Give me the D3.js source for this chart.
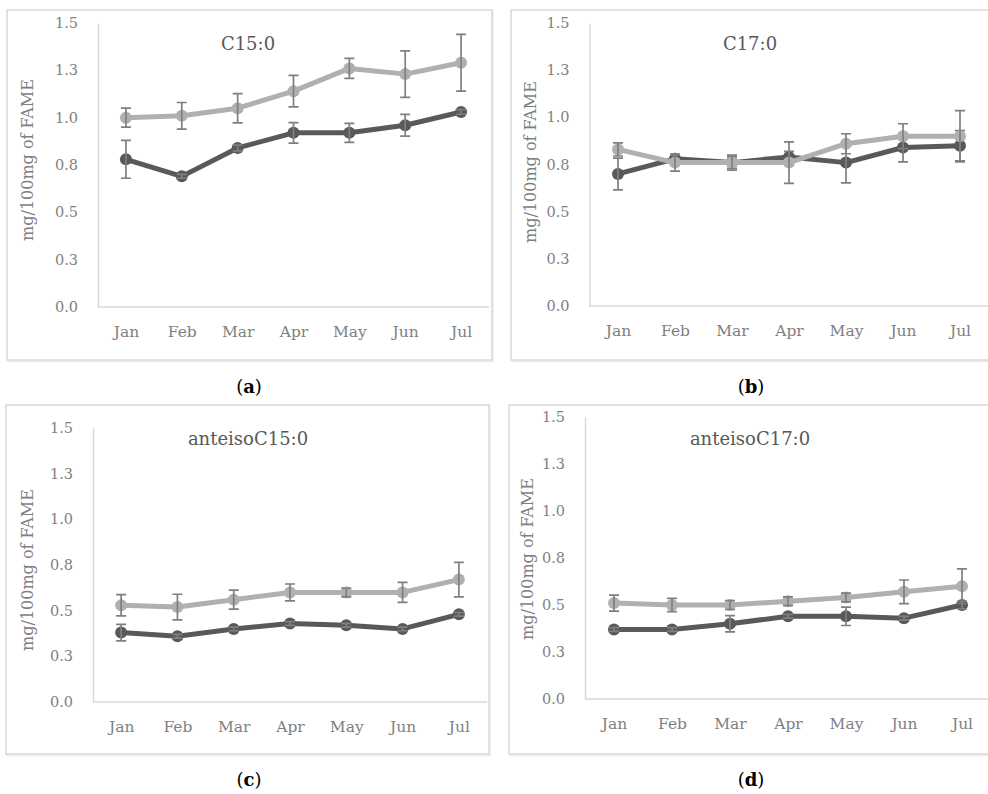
<!DOCTYPE html>
<html>
<head>
<meta charset="utf-8">
<script src="https://cdn.jsdelivr.net/npm/d3@7"></script>
<style>
	body { margin: 0; background: #fff; }
	svg { display: block; }
	.axis path { stroke: #d9d9d9; stroke-width: 1.5; }
	.axis text { fill: #7f7f7f; font-family: 'DejaVu Serif', serif; font-size: 14px; }
	.title { fill: #595959; font-family: 'DejaVu Serif', serif; font-size: 18px; }
	.y-label { fill: #7f7f7f; font-family: 'DejaVu Serif', serif; font-size: 16px; }
	.caption { fill: #000; font-family: 'DejaVu Serif', serif; font-size: 18px; }
</style>
</head>
<body>
<div id="chart"></div>
<script>
var months = ['Jan', 'Feb', 'Mar', 'Apr', 'May', 'Jun', 'Jul'];
var yTicks = [0, 0.25, 0.5, 0.75, 1.0, 1.25, 1.5];
var yTickLabels = ['0.0', '0.3', '0.5', '0.8', '1.0', '1.3', '1.5'];
var yAxisLabel = 'mg/100mg of FAME';
var titles = ['C15:0', 'C17:0', 'anteisoC15:0', 'anteisoC17:0'];
var captions = ['a', 'b', 'c', 'd'];

// C15:0
var c15Dark = [0.78, 0.69, 0.84, 0.92, 0.92, 0.96, 1.03];
var c15DarkErr = [0.10, 0.01, 0.015, 0.054, 0.05, 0.057, 0.012];
var c15Light = [1.00, 1.01, 1.05, 1.14, 1.26, 1.23, 1.29];
var c15LightErr = [0.05, 0.07, 0.077, 0.083, 0.053, 0.123, 0.15];

// C17:0
var c17Dark = [0.70, 0.78, 0.76, 0.79, 0.76, 0.84, 0.85];
var c17DarkErr = [0.084, 0.02, 0.03, 0.03, 0.107, 0.076, 0.08];
var c17Light = [0.83, 0.76, 0.76, 0.76, 0.86, 0.90, 0.90];
var c17LightErr = [0.035, 0.045, 0.04, 0.11, 0.053, 0.066, 0.136];

// anteisoC15:0
var aC15Dark = [0.38, 0.36, 0.40, 0.43, 0.42, 0.40, 0.48];
var aC15DarkErr = [0.045, 0.01, 0.01, 0.01, 0.01, 0.01, 0.01];
var aC15Light = [0.53, 0.52, 0.56, 0.60, 0.60, 0.60, 0.67];
var aC15LightErr = [0.058, 0.07, 0.052, 0.046, 0.024, 0.055, 0.094];

// anteisoC17:0
var aC17Dark = [0.37, 0.37, 0.40, 0.44, 0.44, 0.43, 0.50];
var aC17DarkErr = [0.01, 0.01, 0.043, 0.01, 0.049, 0.01, 0.02];
var aC17Light = [0.51, 0.50, 0.50, 0.52, 0.54, 0.57, 0.60];
var aC17LightErr = [0.043, 0.035, 0.024, 0.023, 0.023, 0.063, 0.092];

var colors = {
	dark: '#595959',
	light: '#b0b0b0',
	err: '#7f7f7f'
};

// panel layout (frame box, plot area, text anchors)
var layout = [
	{ frame: [7, 10, 485, 350], plot: { l: 98, r: 489, t: 23, b: 307 }, title: [248, 50], ylab: [27, 160], cap: [249, 393] },
	{ frame: [511, 10, 480, 350], plot: { l: 589.5, r: 988.5, t: 23, b: 306 }, title: [750, 50], ylab: [530, 162], cap: [751, 393] },
	{ frame: [6, 405, 483, 349], plot: { l: 93, r: 487, t: 428, b: 702 }, title: [248, 445], ylab: [27, 570], cap: [249, 786] },
	{ frame: [509, 405, 482, 349], plot: { l: 585, r: 991, t: 417, b: 699 }, title: [750, 445], ylab: [527, 559], cap: [751, 786] }
];

var seriesSets = [
	[[c15Dark, c15DarkErr], [c15Light, c15LightErr]],
	[[c17Dark, c17DarkErr], [c17Light, c17LightErr]],
	[[aC15Dark, aC15DarkErr], [aC15Light, aC15LightErr]],
	[[aC17Dark, aC17DarkErr], [aC17Light, aC17LightErr]]
];

var app = {
	init: function(el) {
		this.svg = d3.select(el).append('svg')
			.attr('width', 988)
			.attr('height', 794);

		for (var i = 0; i < layout.length; i++) {
			this.drawPanel(i);
		}
	},
	drawPanel: function(i) {
		var svg = this.svg;
		var L = layout[i];
		var p = L.plot;
		var g = svg.append('g');

		// frame (with a faint shadow)
		g.append('rect')
			.attr('x', L.frame[0] + 1)
			.attr('y', L.frame[1] + 1.5)
			.attr('width', L.frame[2])
			.attr('height', L.frame[3])
			.attr('fill', 'none')
			.attr('stroke', '#ececec')
			.attr('stroke-width', 1.5);
		g.append('rect')
			.attr('x', L.frame[0])
			.attr('y', L.frame[1])
			.attr('width', L.frame[2])
			.attr('height', L.frame[3])
			.attr('fill', '#fff')
			.attr('stroke', '#d9d9d9')
			.attr('stroke-width', 1.5);

		var x = d3.scalePoint()
			.domain(months)
			.range([p.l, p.r])
			.padding(0.5);

		var y = d3.scaleLinear()
			.domain([0, 1.5])
			.range([p.b, p.t]);

		var yAxis = d3.axisLeft(y)
			.tickValues(yTicks)
			.tickFormat(function(d, k) { return yTickLabels[k]; })
			.tickSize(0)
			.tickPadding(20);

		var xAxis = d3.axisBottom(x)
			.tickSize(0)
			.tickPadding(19);

		var yg = g.append('g')
			.attr('class', 'axis')
			.attr('transform', 'translate(' + p.l + ',0)')
			.call(yAxis);
		yg.selectAll('text').style('font-size', '14.5px');

		var xg = g.append('g')
			.attr('class', 'axis')
			.attr('transform', 'translate(0,' + p.b + ')')
			.call(xAxis);
		xg.select('.domain').attr('d', 'M' + p.l + ',0H' + p.r);
		xg.selectAll('text').style('font-size', '15.5px');

		// title
		g.append('text')
			.attr('class', 'title')
			.attr('x', L.title[0])
			.attr('y', L.title[1])
			.attr('text-anchor', 'middle')
			.text(titles[i]);

		// y axis label
		g.append('text')
			.attr('class', 'y-label')
			.attr('transform', 'translate(' + L.ylab[0] + ',' + L.ylab[1] + ') rotate(-90)')
			.attr('text-anchor', 'middle')
			.attr('dy', '0.35em')
			.text(yAxisLabel);

		// caption
		var cap = g.append('text')
			.attr('class', 'caption')
			.attr('x', L.cap[0])
			.attr('y', L.cap[1])
			.attr('text-anchor', 'middle');
		cap.append('tspan').text('(');
		cap.append('tspan').attr('font-weight', 'bold').text(captions[i]);
		cap.append('tspan').text(')');

		var sets = seriesSets[i];
		var keys = ['dark', 'light'];
		var line = d3.line()
			.x(function(d, k) { return x(months[k]); })
			.y(function(d) { return y(d); });

		for (var s = 0; s < sets.length; s++) {
			var vals = sets[s][0];
			var errs = sets[s][1];
			var color = colors[keys[s]];

			g.append('path')
				.datum(vals)
				.attr('fill', 'none')
				.attr('stroke', color)
				.attr('stroke-width', 5)
				.attr('stroke-linejoin', 'round')
				.attr('d', line);

			g.selectAll(null)
				.data(vals)
				.enter().append('circle')
				.attr('cx', function(d, k) { return x(months[k]); })
				.attr('cy', function(d) { return y(d); })
				.attr('r', 6)
				.attr('fill', color);

			// error bars
			g.selectAll(null)
				.data(vals)
				.enter().append('path')
				.attr('stroke', colors.err)
				.attr('stroke-width', 1.7)
				.attr('fill', 'none')
				.attr('d', function(d, k) {
					var cx = x(months[k]);
					var y1 = y(d + errs[k]);
					var y0 = y(d - errs[k]);
					return 'M' + cx + ',' + y1 + 'V' + y0 +
						'M' + (cx - 5) + ',' + y1 + 'H' + (cx + 5) +
						'M' + (cx - 5) + ',' + y0 + 'H' + (cx + 5);
				});
		}
	}
};

app.init('#chart');
</script>
</body>
</html>
